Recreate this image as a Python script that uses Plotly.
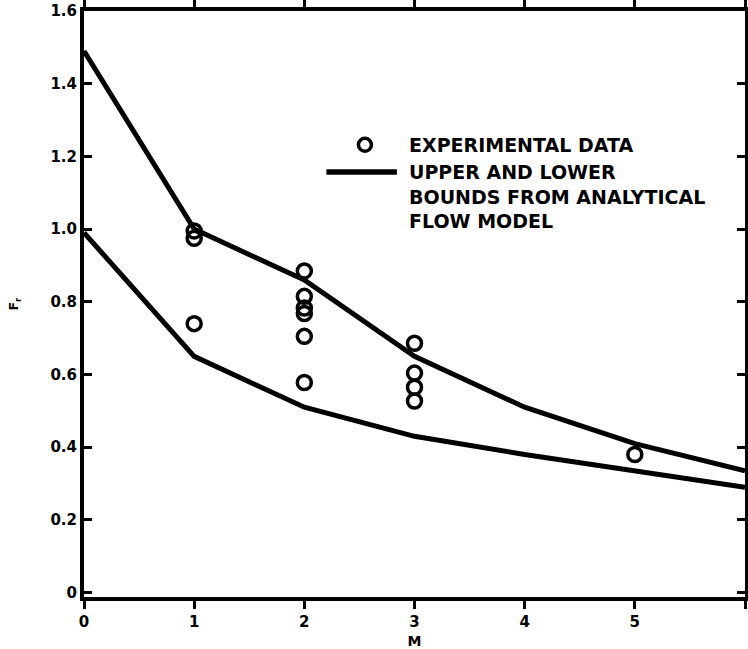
import plotly.graph_objects as go

# Mach number grid for the analytical bounds
m_bounds = [0, 1, 2, 3, 4, 5, 6]
upper_bound = [1.49, 1.00, 0.86, 0.65, 0.51, 0.41, 0.335]
lower_bound = [0.99, 0.65, 0.51, 0.43, 0.38, 0.335, 0.29]

# Experimental points
m_exp = [1, 1, 1, 2, 2, 2, 2, 2, 2, 3, 3, 3, 3, 5]
fr_exp = [0.995, 0.975, 0.74, 0.885, 0.815, 0.783, 0.768, 0.705, 0.578,
          0.686, 0.604, 0.565, 0.527, 0.38]

x_ticks = [0, 1, 2, 3, 4, 5, 6]
y_ticks = [0, 0.2, 0.4, 0.6, 0.8, 1.0, 1.2, 1.4, 1.6]
y_tick_text = ["0", "0.2", "0.4", "0.6", "0.8", "1.0", "1.2", "1.4", "1.6"]

FONT = "DejaVu Sans, Arial, sans-serif"

fig = go.Figure()
for ys in (upper_bound, lower_bound):
    fig.add_trace(go.Scatter(x=m_bounds, y=ys, mode="lines",
                             line=dict(color="black", width=5),
                             showlegend=False, hoverinfo="skip"))
fig.add_trace(go.Scatter(x=m_exp, y=fr_exp, mode="markers",
                         marker=dict(symbol="circle-open", size=14, color="black",
                                     line=dict(width=3.5, color="black")),
                         showlegend=False))

# Hand-placed key
fig.add_trace(go.Scatter(x=[2.55], y=[1.232], mode="markers",
                         marker=dict(symbol="circle-open", size=13, color="black",
                                     line=dict(width=3.5, color="black")),
                         showlegend=False, hoverinfo="skip"))
fig.add_shape(type="line", x0=2.2, x1=2.84, y0=1.157, y1=1.157,
              line=dict(color="black", width=5.5))
key_font = dict(family=FONT, size=19, color="black")
fig.add_annotation(x=2.93, y=1.232, text="<b>EXPERIMENTAL DATA</b>", showarrow=False,
                   xanchor="left", yanchor="middle", font=key_font)
fig.add_annotation(x=2.93, y=1.157,
                   text="<b>UPPER AND LOWER<br>BOUNDS FROM ANALYTICAL<br>FLOW MODEL</b>",
                   showarrow=False, xanchor="left", yanchor="top", yshift=13,
                   align="left", font=key_font)

axis_common = dict(showgrid=False, zeroline=False, showline=True, linecolor="black",
                   linewidth=4, mirror="ticks", tickwidth=3, tickcolor="black",
                   tickfont=dict(family=FONT, size=15, color="black", weight="bold"))

fig.update_layout(
    width=748, height=649,
    margin=dict(l=84, r=3, t=11, b=52, autoexpand=False),
    paper_bgcolor="white", plot_bgcolor="white",
    xaxis=dict(range=[0, 6], tickvals=x_ticks, ticks="outside", ticklen=8,
               title=dict(text="<b>M</b>", font=dict(family=FONT, size=14, color="black"),
                          standoff=10),
               **axis_common),
    yaxis=dict(range=[-0.012, 1.6], tickvals=y_ticks, ticktext=y_tick_text,
               ticks="inside", ticklen=8,
               title=dict(text="<b>F<sub>r</sub></b>",
                          font=dict(family=FONT, size=12, color="black"),
                          standoff=30),
               **axis_common),
)

fig.write_html("out.html")
